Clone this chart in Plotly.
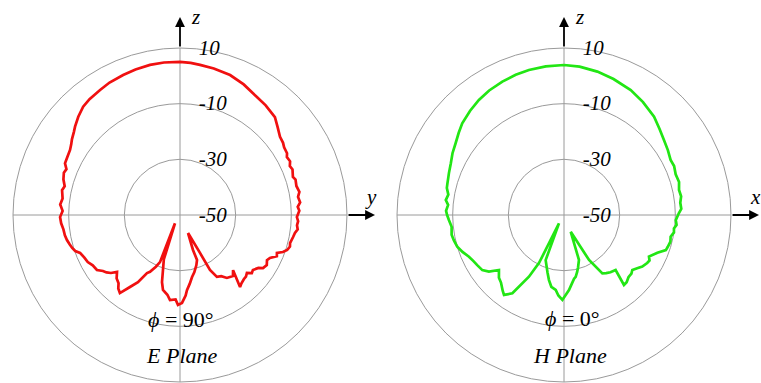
import plotly.graph_objects as go

# ---------------- data ----------------
R_TICKS = [-50, -30, -10, 10]
R_TICK_TEXT = ["-50", "-30", "-10", "10"]

# E plane (phi = 90 deg): theta measured from +z, clockwise towards +y
E_THETA = [0, 4, 7.6, 13, 19.7, 26, 33.1, 38, 44.1, 48, 52.0, 55, 57, 60, 61.5, 64, 66, 68, 71.4, 73,
           76, 79, 81.3, 84, 86, 88, 91, 93, 95, 97, 98.9, 101, 104.3, 106, 108.1, 109.8, 111.4, 113,
           115.5, 117.4, 120, 122.6, 124, 127.0, 129, 130.9, 133, 135, 138, 140.2,
           136.1, 139, 143.3, 146, 149.2, 151.4, 152.2, 156.0, 159.6, 159.3, 162, 164, 166, 169.0,
           171, 172, 174.7, 176, 178.7, 181.3, 183, 186.7, 189, 192.8, 195, 197.2, 200, 211, 203,
           205, 207.8, 209.6, 212, 214.8, 217.6, 220, 222, 225, 227.9, 230, 232, 234,
           236.5, 240, 243, 246, 249.2, 251, 253, 255, 257.5, 260, 263, 266, 269, 272, 275, 278,
           281.9, 284, 287, 290, 292, 294.2, 297, 300.6, 303, 305, 308, 310.1, 314,
           318.2, 322, 327.4, 332, 337.9, 343, 348.7, 354, 360]
E_R = [5.0, 4.8, 4.4, 4.0, 3.4, 2.2, 0.6, 0.0, -1.0, -2.8, -4.4, -4.8, -5.4, -5.6, -6.3, -6.0, -6.8,
       -6.4, -7.2, -6.6, -6.9, -6.3, -7.1, -6.6, -7.6, -7.1, -8.0, -7.5, -7.8, -7.4, -8.2, -8.6,
       -9.2, -8.9, -9.5, -10.7, -12.6, -12.2, -14.2, -14.8, -14.0, -14.6, -16.0, -17.2, -16.8,
       -18.2, -17.6, -17.5, -17.0, -16.3,
       -22.5, -21.0, -21.8, -23.5, -24.1, -27.5, -34.6, -42.9, -36.6, -32.7, -31.0, -30.0, -28.8,
       -27.3, -25.8, -25.0, -22.9, -21.0, -18.4, -17.7, -19.6, -19.2, -21.0, -22.4, -25.0, -29.3,
       -33.0, -46.5, -31.6, -29.5, -26.9, -26.0, -21.5, -18.5, -14.6, -15.5, -17.0, -17.8, -19.5,
       -17.6, -16.5, -15.8, -14.2, -13.8, -12.8, -12.4, -11.6, -10.2, -9.5, -9.0, -8.4, -8.0,
       -7.8, -7.2, -6.9, -7.8, -6.8, -7.4, -6.7, -7.3, -6.2, -5.6, -6.0, -4.7, -4.5, -4.1, -3.4,
       -2.6, -1.6, -0.7, 0.8, 2.2, 2.8, 3.3, 3.9, 4.3, 4.7, 5.0, 5.1, 5.0]

# H plane (phi = 0 deg): theta measured from +z, clockwise towards +x
H_THETA = [0, 6, 13.1, 20, 28.1, 35, 42.5, 48, 53.1, 58, 62.7, 66, 70, 74, 77.7, 81, 84, 87, 89, 92.6,
           95, 97, 99, 101.5, 104, 107, 109, 112, 116.1, 118, 120, 123.4, 126, 128.8, 131, 134, 137,
           139.4, 136.8, 141, 144, 146.7, 150.9, 158.1, 161.6, 165, 167, 169.3, 171, 173, 176.2,
           181.1, 184, 186.3, 190, 193, 196, 202.1, 211, 207.5, 209.6, 213.4, 216.9, 219, 223, 226,
           229.8, 233, 236, 240, 243, 246.3, 250, 253.5, 257, 260, 264, 267.5, 270, 272, 275, 277.2,
           280, 283, 285.2, 288, 290, 294.5, 299, 303.5, 308, 312, 318, 323.5, 329, 335.2, 341,
           346.4, 353, 360]
H_R = [3.9, 3.6, 2.9, 2.0, 0.9, -0.5, -2.1, -3.8, -5.1, -6.0, -6.9, -6.7, -7.3, -7.0, -7.7, -7.4,
       -8.0, -7.8, -8.7, -9.8, -9.4, -10.2, -10.0, -10.9, -10.6, -11.0, -11.3, -13.8, -16.0, -15.2,
       -15.5, -16.3, -17.5, -18.5, -17.9, -17.8, -17.0, -16.9, -22.9, -23.5, -24.2, -24.9, -31.5,
       -43.5, -33.0, -30.5, -29.0, -27.4, -26.8, -25.5, -23.0, -19.5, -21.0, -22.9, -23.8, -26.0,
       -28.5, -32.5, -46.5, -30.6, -24.5, -16.3, -14.1, -15.0, -16.8, -17.5, -19.4, -16.2, -14.6,
       -14.0, -13.5, -12.7, -11.2, -10.0, -9.4, -9.0, -9.4, -8.6, -8.0, -7.6, -8.2, -7.2, -7.8,
       -6.8, -6.6, -6.3, -6.0, -5.3, -4.2, -3.3, -2.0, -0.8, 0.4, 1.4, 2.2, 2.8, 3.3, 3.6, 3.8, 3.9]

# ---------------- styling ----------------
W, H = 761, 383
SERIF = "Liberation Serif"
GRID = "#9a9a9a"
RED = "#f01010"
GREEN = "#22e614"


def px(x):
    return x / W


def py(y):
    return 1 - y / H


RADIUS = 167
LEFT_C = (180, 215)
RIGHT_C = (564, 215)


def domain(c):
    return dict(x=[px(c[0] - RADIUS), px(c[0] + RADIUS)],
                y=[py(c[1] + RADIUS), py(c[1] - RADIUS)])


def polar_cfg(c):
    return dict(
        domain=domain(c),
        bgcolor="white",
        radialaxis=dict(range=[-50, 10], tickvals=R_TICKS, ticktext=R_TICK_TEXT, angle=90,
                        side="clockwise", showline=False, gridcolor=GRID, gridwidth=1,
                        ticks="outside", ticklen=14, tickcolor="rgba(0,0,0,0)", tickangle=90,
                        tickfont=dict(family=SERIF, size=21, color="black", style="italic")),
        angularaxis=dict(rotation=90, direction="clockwise", tickvals=[0, 90, 180, 270],
                         showticklabels=False, ticks="", gridcolor=GRID, gridwidth=1,
                         showline=True, linecolor=GRID, linewidth=1),
    )


fig = go.Figure()
fig.add_trace(go.Scatterpolar(theta=E_THETA, r=E_R, mode="lines",
                              line=dict(color=RED, width=2.7), subplot="polar", showlegend=False))
fig.add_trace(go.Scatterpolar(theta=H_THETA, r=H_R, mode="lines",
                              line=dict(color=GREEN, width=2.7), subplot="polar2", showlegend=False))

annotations = []


def arrow(x_head, y_head, ax, ay):
    annotations.append(dict(x=px(x_head), y=py(y_head), xref="paper", yref="paper", ax=ax, ay=ay,
                            text="", showarrow=True, arrowhead=2, arrowsize=1.1, arrowwidth=1.8,
                            arrowcolor="black", standoff=0, startstandoff=0))


def label(x, y, text, size=22, italic=True):
    annotations.append(dict(x=px(x), y=py(y), xref="paper", yref="paper", text=text,
                            showarrow=False, xanchor="center", yanchor="middle",
                            font=dict(family=SERIF, size=size, color="black",
                                      style="italic" if italic else "normal")))


for (cx, cy), axname in [(LEFT_C, "y"), (RIGHT_C, "x")]:
    arrow(cx, 17, 0, 31)
    arrow(cx + RADIUS + 28, cy, -28, 0)
    label(cx + 15, 17, "z", size=21)
    label(cx + RADIUS + 24, cy - 18, axname, size=21)

label(181, 319, "<i>ϕ</i> = 90°", size=22, italic=False)
label(181, 355, "E Plane", size=22)
label(572, 318, "<i>ϕ</i> = 0°", size=22, italic=False)
label(570, 355, "H Plane", size=22)

fig.update_layout(
    width=W, height=H,
    margin=dict(l=0, r=0, t=0, b=0),
    paper_bgcolor="white",
    plot_bgcolor="white",
    polar=polar_cfg(LEFT_C),
    polar2=polar_cfg(RIGHT_C),
    annotations=annotations,
    showlegend=False,
)

fig.write_html("out.html", config={"displayModeBar": False},
               post_script="document.body.style.margin='0px';")
